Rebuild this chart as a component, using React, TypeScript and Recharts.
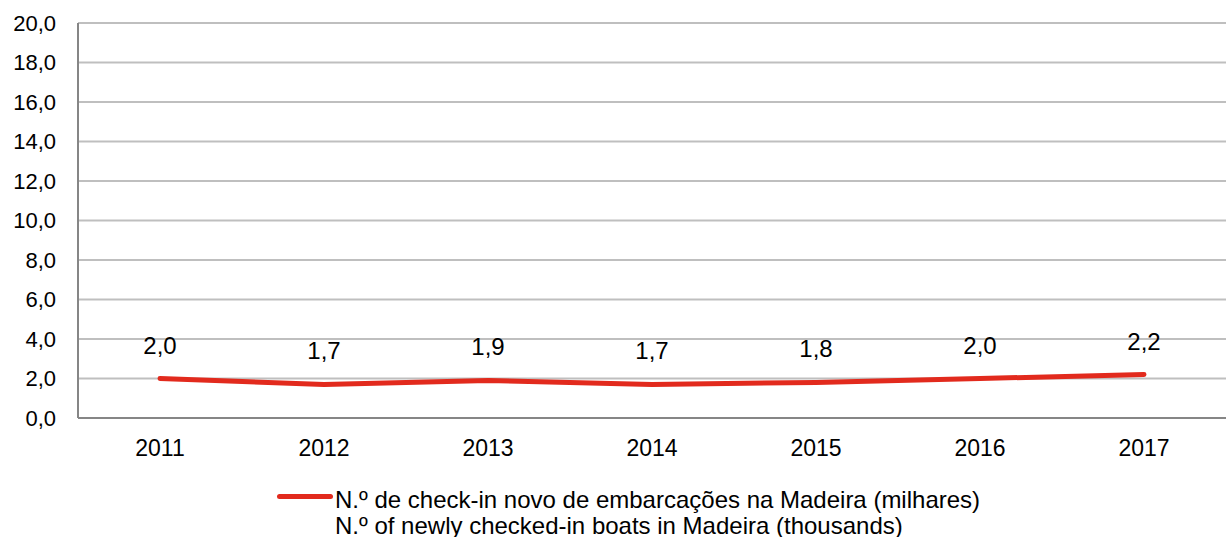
import React from 'react'
import {
  LineChart,
  Line,
  XAxis,
  YAxis,
  CartesianGrid,
  LabelList,
} from 'recharts'

const years = ['2011', '2012', '2013', '2014', '2015', '2016', '2017']
const checkIns = [2.0, 1.7, 1.9, 1.7, 1.8, 2.0, 2.2]
const yTicks = [0, 2, 4, 6, 8, 10, 12, 14, 16, 18, 20]

const legendPt = 'N.º de check-in novo de embarcações na Madeira (milhares)'
const legendEn = 'N.º of newly checked-in boats in Madeira (thousands)'

const data = years.map((year, i) => ({ year, value: checkIns[i] }))

const RED = '#e22a1d'
const FONT = '"Liberation Sans", Arial, sans-serif'

const fmt = (v: number) => v.toFixed(1).replace('.', ',')

function ValueLabel(props: any) {
  const { x, y, value } = props
  return (
    <text x={x} y={y - 25} textAnchor="middle" fontSize={24} fill="#000" fontFamily={FONT}>
      {fmt(value)}
    </text>
  )
}

// legend sits below the plot, outside the chart's layout
function SeriesLegend() {
  return (
    <div style={{ position: 'absolute', left: 277, top: 487, display: 'flex', alignItems: 'flex-start', fontFamily: FONT, fontSize: 24, color: '#000', lineHeight: '26px' }}>
      <span style={{ width: 56, height: 5, background: RED, borderRadius: 3, marginTop: 7, flexShrink: 0 }} />
      <div style={{ marginLeft: 2, whiteSpace: 'nowrap' }}>
        <div>{legendPt}</div>
        <div>{legendEn}</div>
      </div>
    </div>
  )
}

export default function App() {
  return (
    <div style={{ position: 'absolute', left: 0, top: 0, width: 1226, height: 537, background: '#fff', overflow: 'hidden' }}>
      <LineChart width={1226} height={537} data={data} margin={{ top: 23, right: 0, bottom: 89, left: 0 }}>
        <CartesianGrid vertical={false} stroke="#bfbfbf" strokeWidth={2} />
        <XAxis
          dataKey="year"
          height={30}
          axisLine={{ stroke: '#868686', strokeWidth: 2 }}
          tickLine={false}
          tickSize={0}
          tickMargin={22}
          tick={{ fill: '#000', fontSize: 23, fontFamily: FONT }}
          padding={{ left: 82, right: 82 }}
        />
        <YAxis
          domain={[0, 20]}
          ticks={yTicks}
          width={78}
          axisLine={{ stroke: '#868686', strokeWidth: 2 }}
          tickLine={false}
          tickSize={0}
          tickMargin={22}
          tickFormatter={fmt}
          tick={{ fill: '#000', fontSize: 22, fontFamily: FONT }}
          interval={0}
        />
        <Line
          type="linear"
          dataKey="value"
          stroke={RED}
          strokeWidth={5}
          strokeLinecap="round"
          dot={false}
          activeDot={false}
          isAnimationActive={false}
        >
          <LabelList dataKey="value" content={<ValueLabel />} />
        </Line>
      </LineChart>
      <SeriesLegend />
    </div>
  )
}
